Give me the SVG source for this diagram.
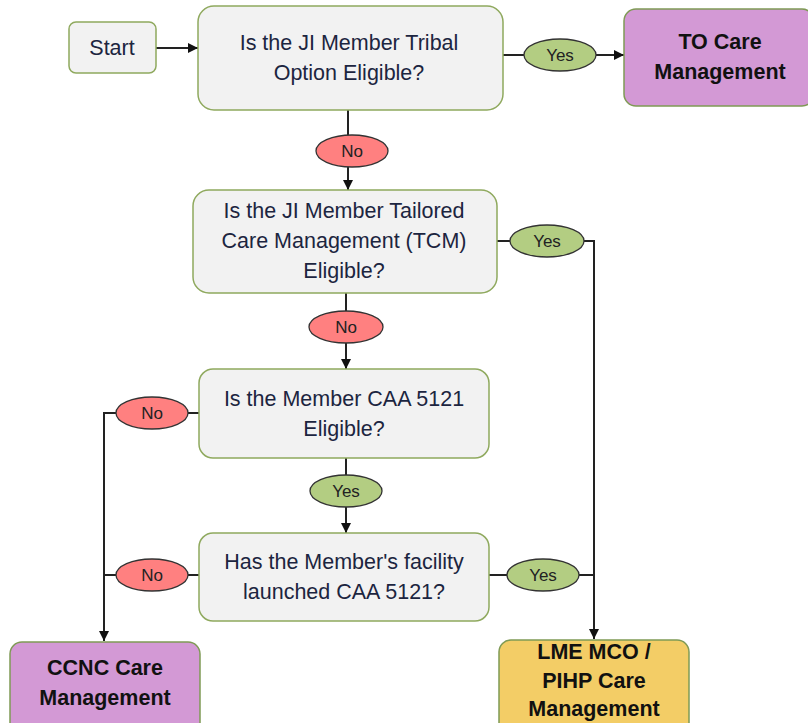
<svg xmlns="http://www.w3.org/2000/svg" width="808" height="723" viewBox="0 0 808 723">
<defs>
<style>
.box{fill:#f2f2f2;stroke:#8fa95e;stroke-width:1.5}
.term{fill:#d399d5;stroke:#7f9a55;stroke-width:1.5}
.lme{fill:#f3cd66;stroke:#7f9a55;stroke-width:1.5}
.q{font-family:"Liberation Sans",Arial,sans-serif;font-size:21.5px;fill:#1c2540;text-anchor:middle}
.b{font-family:"Liberation Sans",Arial,sans-serif;font-size:21.5px;font-weight:bold;fill:#111;text-anchor:middle}
.lbl{font-family:"Liberation Sans",Arial,sans-serif;font-size:17px;fill:#222;text-anchor:middle}
.no{fill:#ff8080;stroke:#333;stroke-width:1.3}
.yes{fill:#b3cd82;stroke:#333;stroke-width:1.3}
.ln{fill:none;stroke:#222;stroke-width:2}
</style>
<marker id="a" viewBox="0 0 10 10" refX="10" refY="5" markerWidth="10" markerHeight="10" orient="auto" markerUnits="userSpaceOnUse">
<path d="M0,0 L10,5 L0,10 z" fill="#111"/>
</marker>
</defs>
<rect width="808" height="723" fill="#fff"/>
<g id="connectors">
<path class="ln" d="M156,48 H198" marker-end="url(#a)"/>
<path class="ln" d="M503,55 H524"/>
<path class="ln" d="M596,55 H624" marker-end="url(#a)"/>
<path class="ln" d="M348,110 V135"/>
<path class="ln" d="M348,167 V190" marker-end="url(#a)"/>
<path class="ln" d="M497,241 H510"/>
<path class="ln" d="M584,241 H594 V639" marker-end="url(#a)"/>
<path class="ln" d="M346,293 V311"/>
<path class="ln" d="M346,343 V369" marker-end="url(#a)"/>
<path class="ln" d="M199,413 H188"/>
<path class="ln" d="M116,413 H104 V641" marker-end="url(#a)"/>
<path class="ln" d="M346,458 V475"/>
<path class="ln" d="M346,507 V533" marker-end="url(#a)"/>
<path class="ln" d="M199,575 H188"/>
<path class="ln" d="M116,575 H104"/>
<path class="ln" d="M489,575 H507"/>
<path class="ln" d="M579,575 H594"/>
</g>
<g id="start">
<rect class="box" x="69" y="22" width="87" height="51" rx="7"/>
<text class="q" x="112" y="55">Start</text>
</g>
<g id="q1">
<rect class="box" x="198" y="6" width="305" height="104" rx="16"/>
<text class="q" x="349" y="50">Is the JI Member Tribal</text>
<text class="q" x="349" y="80">Option Eligible?</text>
</g>
<g id="yes1">
<ellipse class="yes" cx="560" cy="55" rx="36" ry="16"/>
<text class="lbl" x="560" y="61">Yes</text>
</g>
<g id="to">
<rect class="term" x="624" y="9" width="190" height="97" rx="12"/>
<text class="b" x="720" y="49">TO Care</text>
<text class="b" x="720" y="79">Management</text>
</g>
<g id="no1">
<ellipse class="no" cx="352" cy="151" rx="36" ry="16"/>
<text class="lbl" x="352" y="157">No</text>
</g>
<g id="q2">
<rect class="box" x="193" y="190" width="304" height="103" rx="16"/>
<text class="q" x="344" y="218">Is the JI Member Tailored</text>
<text class="q" x="344" y="248">Care Management (TCM)</text>
<text class="q" x="344" y="278">Eligible?</text>
</g>
<g id="yes2">
<ellipse class="yes" cx="547" cy="241" rx="37" ry="16"/>
<text class="lbl" x="547" y="247">Yes</text>
</g>
<g id="no2">
<ellipse class="no" cx="346" cy="327" rx="37" ry="16"/>
<text class="lbl" x="346" y="333">No</text>
</g>
<g id="q3">
<rect class="box" x="199" y="369" width="290" height="89" rx="14"/>
<text class="q" x="344" y="406">Is the Member CAA 5121</text>
<text class="q" x="344" y="436">Eligible?</text>
</g>
<g id="no3">
<ellipse class="no" cx="152" cy="413" rx="36" ry="16"/>
<text class="lbl" x="152" y="419">No</text>
</g>
<g id="yes3">
<ellipse class="yes" cx="346" cy="491" rx="36" ry="16"/>
<text class="lbl" x="346" y="497">Yes</text>
</g>
<g id="q4">
<rect class="box" x="199" y="533" width="290" height="88" rx="14"/>
<text class="q" x="344" y="569">Has the Member's facility</text>
<text class="q" x="344" y="599">launched CAA 5121?</text>
</g>
<g id="no4">
<ellipse class="no" cx="152" cy="575" rx="36" ry="16"/>
<text class="lbl" x="152" y="581">No</text>
</g>
<g id="yes4">
<ellipse class="yes" cx="543" cy="575" rx="36" ry="16"/>
<text class="lbl" x="543" y="581">Yes</text>
</g>
<g id="ccnc">
<rect class="term" x="10" y="642" width="190" height="95" rx="12"/>
<text class="b" x="105" y="675">CCNC Care</text>
<text class="b" x="105" y="705">Management</text>
</g>
<g id="lme">
<rect class="lme" x="499" y="640" width="190" height="95" rx="12"/>
<text class="b" x="594" y="659">LME MCO /</text>
<text class="b" x="594" y="688">PIHP Care</text>
<text class="b" x="594" y="716">Management</text>
</g>
</svg>
